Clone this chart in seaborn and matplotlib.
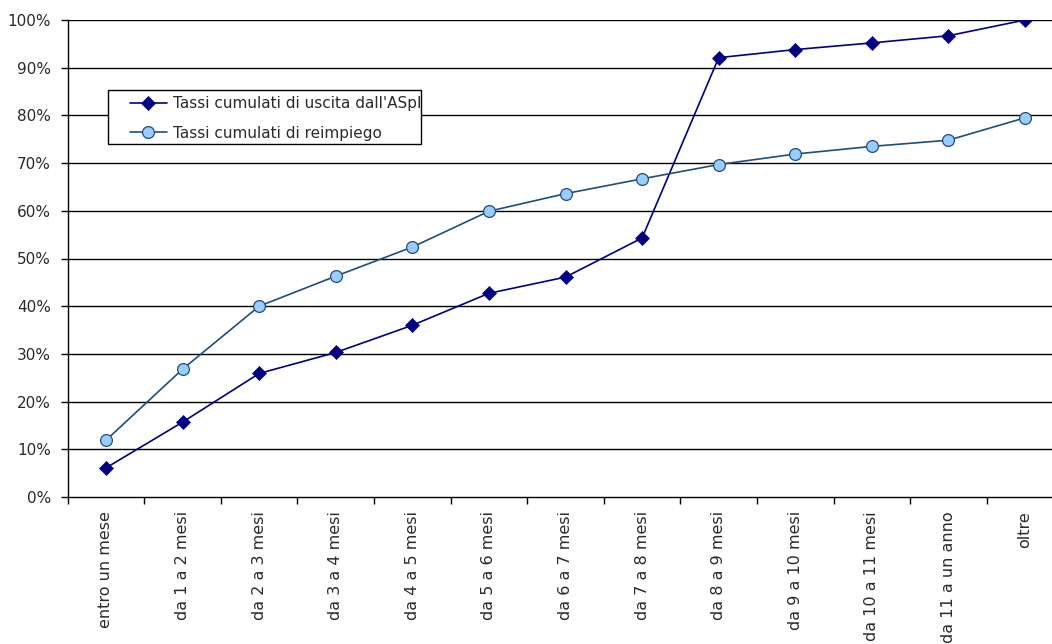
import numpy as np
import pandas as pd
import matplotlib
matplotlib.use("Agg")
import matplotlib.pyplot as plt
import seaborn as sns
from matplotlib.patches import Rectangle
from matplotlib.ticker import FuncFormatter

categories = ["entro un mese", "da 1 a 2 mesi", "da 2 a 3 mesi", "da 3 a 4 mesi",
              "da 4 a 5 mesi", "da 5 a 6 mesi", "da 6 a 7 mesi", "da 7 a 8 mesi",
              "da 8 a 9 mesi", "da 9 a 10 mesi", "da 10 a 11 mesi", "da 11 a un anno",
              "oltre"]
uscita = [6.1, 15.7, 25.9, 30.3, 36.0, 42.7, 46.1, 54.3, 92.1, 93.8, 95.2, 96.7, 100.0]
reimpiego = [11.9, 26.8, 40.0, 46.3, 52.4, 59.9, 63.6, 66.7, 69.7, 71.9, 73.5, 74.8, 79.5]
series_names = ["Tassi cumulati di uscita dall'ASpI", "Tassi cumulati di reimpiego"]
yticks = [0, 10, 20, 30, 40, 50, 60, 70, 80, 90, 100]

sns.set_style("white")
plt.rcParams['font.family'] = ['DejaVu Sans']

df = pd.DataFrame({
    "pos": list(range(len(categories))) * 2,
    "value": uscita + reimpiego,
    "series": [series_names[0]] * len(categories) + [series_names[1]] * len(categories),
})

W, H = 1052, 644
fig = plt.figure(figsize=(W / 100, H / 100), dpi=100)
left_px, right_px, top_px, bot_px = 67.7, 1063.3, 20, 497
ax = fig.add_axes([left_px / W, (H - bot_px) / H, (right_px - left_px) / W, (bot_px - top_px) / H])

d1 = df[df.series == series_names[0]]
d2 = df[df.series == series_names[1]]
sns.lineplot(data=d1, x="pos", y="value", ax=ax, color="#000080", lw=1.2,
             marker="D", ms=7, mfc="#000080", mec="#000080", mew=0.5,
             label=series_names[0], zorder=3)
sns.lineplot(data=d2, x="pos", y="value", ax=ax, color="#1F4E7A", lw=1.2,
             marker="o", ms=8.5, mfc="#99CCFF", mec="#1F4E7A", mew=0.9,
             label=series_names[1], zorder=3)

ax.set_xlim(-0.5, len(categories) - 0.5)
ax.set_ylim(0, 100)
ax.set_yticks(yticks)
ax.yaxis.set_major_formatter(FuncFormatter(lambda v, p: f"{int(v)}%"))
ax.set_xticks(range(len(categories)))
ax.set_xticklabels(categories, rotation=90, ha="center", va="top")
ax.set_xticks(np.arange(-0.5, len(categories), 1.0), minor=True)
ax.tick_params(axis="x", which="major", length=0, pad=10, labelsize=11.5, labelcolor="#2a2a2a")
ax.tick_params(axis="x", which="minor", length=5, width=1, color="black", direction="out", bottom=True)
ax.tick_params(axis="y", length=5, width=1, color="black", direction="out", left=True,
               pad=7, labelsize=11, labelcolor="#2a2a2a")
ax.set_xlabel("")
ax.set_ylabel("")

for yv in yticks[1:]:
    ax.axhline(yv, color="black", lw=1, zorder=1)
for s in ["top", "right"]:
    ax.spines[s].set_visible(False)
for s in ["left", "bottom"]:
    ax.spines[s].set_color("black")
    ax.spines[s].set_linewidth(1)

# legend box
rect = Rectangle((108 / W, (H - 144) / H), (421 - 108) / W, (144 - 90) / H,
                 transform=fig.transFigure, facecolor="white", edgecolor="black",
                 lw=1, zorder=4, clip_on=False)
ax.add_patch(rect)
leg = ax.legend(loc="upper left", bbox_to_anchor=(130 / W, 1 - 96 / H),
                bbox_transform=fig.transFigure, frameon=False, borderpad=0,
                borderaxespad=0, handlelength=2.4, handletextpad=0.4,
                labelspacing=0.95, fontsize=11)
leg.set_zorder(5)
for t in leg.get_texts():
    t.set_color("#2a2a2a")

fig.savefig("out.png", dpi=100)
